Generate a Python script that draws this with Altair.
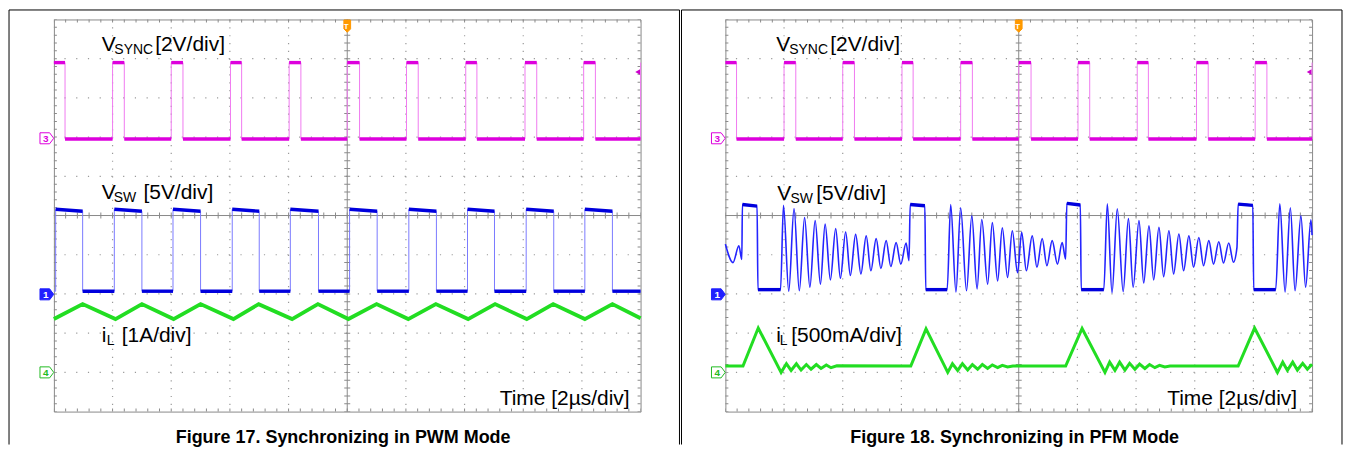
import altair as alt
import numpy as np
import pandas as pd

FONT = "Liberation Sans"
PW, PH = 588, 393

# ---------------- Figure 17 (PWM) : values in scope divisions ----------------
SYNC_RISE_L = [0.0, 1.0, 2.0, 3.01, 4.01, 5.0, 6.01, 7.02, 8.03, 9.03, 10.0]
SYNC_FALL_L = [0.19, 1.2, 2.2, 3.2, 4.21, 5.21, 6.21, 7.21, 8.23, 9.23]
SYNC_HI, SYNC_LO = 3.9, 1.95

VSW_RISE_L = [0.03, 1.03, 2.03, 3.04, 4.03, 5.04, 6.05, 7.05, 8.05, 9.05]
VSW_FALL_L = [0.49, 1.50, 2.50, 3.50, 4.51, 5.51, 6.52, 7.51, 8.52, 9.52]
VSW_HI_START, VSW_HI_END, VSW_LO = 0.16, 0.11, -1.93

IL_L_T = [0.00, 0.49, 1.05, 1.50, 2.04, 2.50, 3.06, 3.49, 4.06, 4.50, 5.02,
          5.50, 6.04, 6.51, 7.06, 7.52, 8.06, 8.51, 9.05, 9.52, 10.0]
IL_L_V = [-2.64, -2.26, -2.64, -2.26, -2.64, -2.26, -2.64, -2.26, -2.64, -2.26, -2.64,
          -2.26, -2.64, -2.26, -2.64, -2.26, -2.64, -2.26, -2.64, -2.26, -2.62]

# ---------------- Figure 18 (PFM) ----------------
SYNC_RISE_R = [0.0, 1.0, 2.0, 3.01, 4.01, 5.0, 6.01, 7.02, 8.03, 9.03, 10.0]
SYNC_FALL_R = [0.19, 1.2, 2.2, 3.2, 4.21, 5.21, 6.21, 7.21, 8.23, 9.23]

VSW_R_T = [0.00, 0.13, 0.23, 0.28, 0.29, 0.54, 0.555, 0.94,
           0.99, 1.08, 1.17, 1.26, 1.35, 1.44, 1.53, 1.62, 1.70, 1.79, 1.88, 1.96, 2.05, 2.13, 2.22,
           2.31, 2.40, 2.48, 2.57, 2.65, 2.74, 2.82, 2.91, 2.99, 3.08, 3.13,
           3.15, 3.40, 3.415, 3.78,
           3.84, 3.93, 4.01, 4.11, 4.20, 4.29, 4.37, 4.47, 4.55, 4.64, 4.72, 4.81, 4.89, 4.98, 5.05,
           5.13, 5.23, 5.31, 5.40, 5.48, 5.57, 5.66, 5.74, 5.80,
           5.82, 6.05, 6.065, 6.45,
           6.51, 6.59, 6.68, 6.78, 6.87, 6.95, 7.05, 7.13, 7.22, 7.30, 7.39, 7.47, 7.56, 7.64, 7.73,
           7.81, 7.90, 7.98, 8.07, 8.15, 8.24, 8.32, 8.41, 8.49, 8.58, 8.66, 8.72,
           8.74, 8.99, 9.005, 9.38,
           9.45, 9.54, 9.63, 9.71, 9.81, 9.89, 9.98, 10.0]
VSW_R_V = [-0.73, -1.20, -0.77, -1.12, 0.28, 0.24, -1.89, -1.89,
           0.26, -1.93, 0.18, -1.92, -0.05, -1.83, -0.13, -1.75, -0.22, -1.64, -0.33, -1.60, -0.42,
           -1.53, -0.48, -1.49, -0.52, -1.41, -0.59, -1.35, -0.64, -1.30, -0.69, -1.24, -0.70, -1.15,
           0.28, 0.25, -1.89, -1.89,
           0.28, -1.95, 0.20, -1.92, -0.01, -1.87, -0.10, -1.75, -0.18, -1.67, -0.31, -1.58, -0.39,
           -1.46, -0.43, -1.41, -0.52, -1.32, -0.59, -1.28, -0.64, -1.24, -0.69, -1.11,
           0.31, 0.27, -1.89, -1.89,
           0.30, -1.97, 0.17, -1.94, -0.08, -1.83, -0.13, -1.72, -0.26, -1.64, -0.30, -1.56, -0.39,
           -1.49, -0.47, -1.41, -0.52, -1.32, -0.56, -1.28, -0.64, -1.24, -0.67, -1.21, -0.70,
           -1.19, -0.81,
           0.29, 0.26, -1.89, -1.89,
           0.30, -1.95, 0.20, -1.92, -0.01, -1.83, -0.11, -0.50]

IL_R_T = [0.00, 0.30, 0.56, 0.95, 1.04, 1.12, 1.21, 1.29, 1.38, 1.46, 1.55, 1.63, 1.72, 1.80, 1.90,
          3.16, 3.42, 3.79, 3.87, 3.96, 4.04, 4.13, 4.21, 4.30, 4.38, 4.47, 4.55, 4.64, 4.72, 4.81, 4.90,
          5.80, 6.08, 6.47, 6.55, 6.64, 6.72, 6.81, 6.89, 6.98, 7.06, 7.15, 7.23, 7.32, 7.40, 7.49, 7.58,
          8.74, 9.02, 9.41, 9.50, 9.58, 9.67, 9.75, 9.84, 9.92, 10.0]
IL_R_V = [-3.84, -3.84, -2.87, -4.00, -3.78, -3.95, -3.78, -3.94, -3.80, -3.92, -3.80, -3.90, -3.81, -3.88, -3.83,
          -3.84, -2.89, -4.00, -3.78, -3.95, -3.78, -3.94, -3.80, -3.92, -3.80, -3.90, -3.81, -3.88, -3.82, -3.86, -3.84,
          -3.84, -2.88, -4.00, -3.74, -3.95, -3.74, -3.94, -3.77, -3.92, -3.79, -3.90, -3.80, -3.88, -3.82, -3.86, -3.84,
          -3.84, -2.87, -4.00, -3.74, -3.95, -3.74, -3.94, -3.77, -3.92, -3.79]

assert len(VSW_R_T) == len(VSW_R_V) and len(IL_R_T) == len(IL_R_V) and len(IL_L_T) == len(IL_L_V)

# ---------------- text ----------------
LAB_L_TEXT = ["V", "SYNC", "[2V/div]", "V", "SW", "[5V/div]", "i", "L", "[1A/div]"]
LAB_L_X = [0.816, 1.03, 1.726, 0.816, 1.02, 1.526, 0.816, 0.90, 1.156]
LAB_L_Y = [4.19, 4.12, 4.19, 0.415, 0.35, 0.415, -3.23, -3.31, -3.23]
LAB_R_TEXT = ["V", "SYNC", "[2V/div]", "V", "SW", "[5V/div]", "i", "L", "[500mA/div]"]
LAB_R_X = [0.867, 1.088, 1.786, 0.884, 1.11, 1.548, 0.867, 0.927, 1.122]
LAB_R_Y = [4.19, 4.12, 4.19, 0.39, 0.33, 0.39, -3.23, -3.31, -3.23]
LAB_SIZE = [21, 14, 21, 21, 14, 21, 21, 14, 21]
TIME_TEXT = "Time [2µs/div]"
CAPTION_L = "Figure 17. Synchronizing in PWM Mode"
CAPTION_R = "Figure 18. Synchronizing in PFM Mode"

GRID_C = "#9a9a9a"
AXIS_C = "#8a8a8a"

xs = alt.Scale(domain=[0, 10], nice=False, zero=False)
ys = alt.Scale(domain=[-5, 5], nice=False, zero=False)


def X(f="x"):
    return alt.X(f"{f}:Q", scale=xs, axis=None)


def Y(f="y"):
    return alt.Y(f"{f}:Q", scale=ys, axis=None)


def pulses(rise, fall, hi0, hi1, lo):
    t, v = [], []
    for k, r in enumerate(rise):
        if r > 0:
            t.append(r); v.append(lo)
        t.append(r); v.append(hi0)
        if k < len(fall):
            t.append(fall[k]); v.append(hi1)
            t.append(fall[k]); v.append(lo)
    if t[0] > 0:
        t.insert(0, 0.0); v.insert(0, lo)
    if t[-1] < 10:
        t.append(10.0); v.append(lo)
    return t, v


def line_df(t, v):
    return pd.DataFrame({"x": t, "y": v, "i": list(range(len(t)))})


def flat_df(t, v):
    rows = []
    for k in range(len(t) - 1):
        if t[k + 1] - t[k] > 0.05 and abs(v[k + 1] - v[k]) < 0.15:
            rows.append({"x": t[k], "x2": t[k + 1], "y": v[k], "y2": v[k + 1]})
    return pd.DataFrame(rows)


def trace(t, v, thin_c, thin_w, flat_c, flat_w, interp="linear"):
    ln = alt.Chart(line_df(t, v)).mark_line(
        color=thin_c, strokeWidth=thin_w, interpolate=interp
    ).encode(x=X(), y=Y(), order=alt.Order("i:Q"))
    fl = alt.Chart(flat_df(t, v)).mark_rule(color=flat_c, strokeWidth=flat_w).encode(
        x=X(), x2=alt.X2("x2:Q"), y=Y(), y2=alt.Y2("y2:Q"))
    return [ln, fl]


def tag(xv, yv, label, stroke, fill, txt_c, shape, size=190, tsize=10):
    df = pd.DataFrame({"x": [xv], "y": [yv], "t": [label]})
    base = alt.Chart(df)
    p = base.mark_point(shape=shape, size=size, filled=True, fill=fill, stroke=stroke,
                        strokeWidth=1, opacity=1).encode(x=X(), y=Y())
    t = base.mark_text(font=FONT, fontSize=tsize, fontWeight="bold", color=txt_c,
                       baseline="middle", align="center", dy=0.5, dx=-1).encode(x=X(), y=Y(), text="t:N")
    return [p, t]


TAG_R = "M-1,-0.8 L0.4,-0.8 L1,0 L0.4,0.8 L-1,0.8 Z"
TAG_D = "M-0.55,-1 L0.55,-1 L0.55,0.45 L0,1 L-0.55,0.45 Z"


def panel(sync_tv, vsw_tv, vsw_ring, il_tv, il_w, lab_x, lab_y, lab_t, time_x,
          caption, cap_x, fx0, fx1):
    L = []
    # dotted graticule
    L.append(alt.Chart(pd.DataFrame({"y": [-4, -3, -2, -1, 1, 2, 3, 4]})).mark_rule(
        color=GRID_C, strokeWidth=1.2, strokeDash=[1.2, 10.56]).encode(y=Y()))
    L.append(alt.Chart(pd.DataFrame({"x": [1, 2, 3, 4, 6, 7, 8, 9]})).mark_rule(
        color=GRID_C, strokeWidth=1.2, strokeDash=[1.2, 6.66]).encode(x=X()))
    # centre cross
    L.append(alt.Chart(pd.DataFrame({"y": [0]})).mark_rule(color=AXIS_C, strokeWidth=1).encode(y=Y()))
    L.append(alt.Chart(pd.DataFrame({"x": [5]})).mark_rule(color=AXIS_C, strokeWidth=1).encode(x=X()))
    # minor ticks (centre lines and border)
    tx = np.round(np.arange(0, 10.001, 0.2), 2)
    ty = np.round(np.arange(-5, 5.001, 0.2), 2)
    vt = pd.DataFrame({"x": np.concatenate([tx, tx, tx]),
                       "y": np.concatenate([np.zeros_like(tx), np.full_like(tx, 5.0), np.full_like(tx, -5.0)])})
    ht = pd.DataFrame({"y": np.concatenate([ty, ty, ty]),
                       "x": np.concatenate([np.full_like(ty, 5.0), np.zeros_like(ty), np.full_like(ty, 10.0)])})
    L.append(alt.Chart(vt).mark_tick(orient="vertical", size=6, thickness=1, color=AXIS_C,
                                     clip=True, opacity=1).encode(x=X(), y=Y()))
    L.append(alt.Chart(ht).mark_tick(orient="horizontal", size=6, thickness=1, color=AXIS_C,
                                     clip=True, opacity=1).encode(x=X(), y=Y()))
    # traces
    L += trace(*sync_tv, "#f07af0", 1.0, "#dd00dd", 3.4)
    if vsw_ring:
        L += trace(*vsw_tv, "#2424ff", 1.6, "#0000dd", 3.4, interp="monotone")
    else:
        L += trace(*vsw_tv, "#7a7aff", 1.0, "#0000dd", 3.4)
    L.append(alt.Chart(line_df(*il_tv)).mark_line(color="#22dd22", strokeWidth=il_w).encode(
        x=X(), y=Y(), order=alt.Order("i:Q")))
    # channel labels
    lab = pd.DataFrame({"x": lab_x, "y": lab_y, "t": lab_t, "s": LAB_SIZE})
    L.append(alt.Chart(lab).mark_text(font=FONT, align="left", baseline="alphabetic", color="#000000").encode(
        x=X(), y=Y(), text="t:N", size=alt.Size("s:Q", scale=None, legend=None)))
    L.append(alt.Chart(pd.DataFrame({"x": [time_x], "y": [-4.835], "t": [TIME_TEXT]})).mark_text(
        font=FONT, fontSize=21, align="right", baseline="alphabetic", color="#000000").encode(
        x=X(), y=Y(), text="t:N"))
    # channel / trigger markers
    L += tag(-0.12, 1.97, "3", "#dd00dd", "#ffffff", "#dd00dd", TAG_R)
    L += tag(-0.12, -2.01, "1", "#2020ff", "#2020ff", "#ffffff", TAG_R)
    L += tag(-0.12, -4.0, "4", "#22bb22", "#ffffff", "#22bb22", TAG_R)
    L += tag(5.0, 4.83, "T", "#ff9900", "#ff9900", "#ffffff", TAG_D, size=150, tsize=8)
    L.append(alt.Chart(pd.DataFrame({"x": [9.95], "y": [3.66]})).mark_point(
        shape="triangle-left", size=30, filled=True, color="#cc00cc", opacity=1).encode(x=X(), y=Y()))
    # outer frame
    top, bot = 5.242, -5.84
    L.append(alt.Chart(pd.DataFrame({"x": [fx0, fx1], "y": [top, top], "y2": [bot, bot]})).mark_rule(
        color="#000000", strokeWidth=1).encode(x=X(), y=Y(), y2=alt.Y2("y2:Q")))
    L.append(alt.Chart(pd.DataFrame({"x": [fx0], "x2": [fx1], "y": [top]})).mark_rule(
        color="#000000", strokeWidth=1).encode(x=X(), x2=alt.X2("x2:Q"), y=Y()))
    # caption
    L.append(alt.Chart(pd.DataFrame({"x": [cap_x], "y": [-5.80], "t": [caption]})).mark_text(
        font=FONT, fontSize=18, fontWeight="bold", align="center", baseline="alphabetic",
        color="#000000").encode(x=X(), y=Y(), text="t:N"))
    return alt.layer(*L).properties(width=PW, height=PH)


left = panel(pulses(SYNC_RISE_L, SYNC_FALL_L, SYNC_HI, SYNC_HI, SYNC_LO),
             pulses(VSW_RISE_L, VSW_FALL_L, VSW_HI_START, VSW_HI_END, VSW_LO),
             False, (IL_L_T, IL_L_V), 3.8,
             LAB_L_X, LAB_L_Y, LAB_L_TEXT, 9.813, CAPTION_L, 4.93, -0.765, 10.663)
right = panel(pulses(SYNC_RISE_R, SYNC_FALL_R, SYNC_HI, SYNC_HI, SYNC_LO),
              (VSW_R_T, VSW_R_V), True, (IL_R_T, IL_R_V), 3.0,
              LAB_R_X, LAB_R_Y, LAB_R_TEXT, 9.745, CAPTION_R, 4.93, -0.748, 10.51)

chart = alt.hconcat(left, right, spacing=0).properties(padding=0).configure_view(
    stroke="#8a8a8a", strokeWidth=1)

chart.save("out.html", embed_options={"renderer": "svg", "actions": False})
